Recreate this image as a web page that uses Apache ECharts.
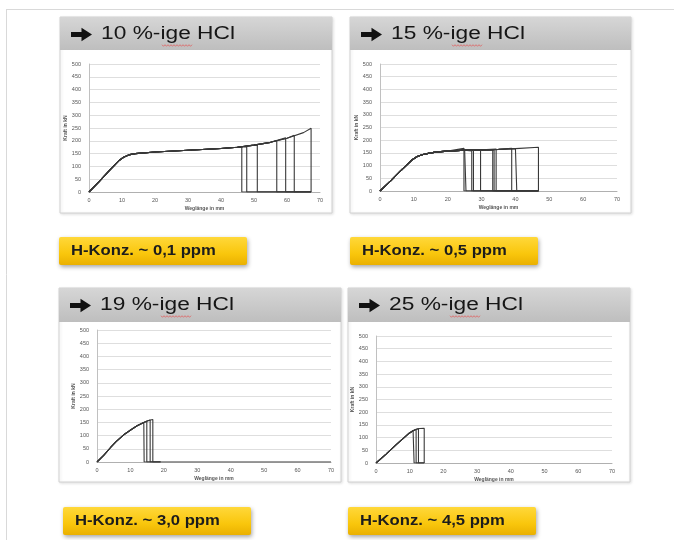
<!DOCTYPE html>
<html>
<head>
<meta charset="utf-8">
<script src="https://cdn.jsdelivr.net/npm/echarts@6/dist/echarts.min.js"></script>
<style>
html, body { margin: 0; padding: 0; background: #fff; }
#chart { width: 674px; height: 540px; }
</style>
</head>
<body>
<div id="chart"></div>
<script>
// Zugversuche je HCl-Konzentration, Kraft in kN ueber Weg in mm
var titles = ['10 %-ige HCl', '15 %-ige HCl', '19 %-ige HCl', '25 %-ige HCl'];
var hKonz = ['H-Konz. ~ 0,1 ppm', 'H-Konz. ~ 0,5 ppm', 'H-Konz. ~ 3,0 ppm', 'H-Konz. ~ 4,5 ppm'];
var xTicks = [0, 10, 20, 30, 40, 50, 60, 70];
var yTicks = [0, 50, 100, 150, 200, 250, 300, 350, 400, 450, 500];

// gemeinsame Kurve bis zum Bruch, dann Bruchstellen (Weg, Kraft) und Ende der Nulllinie
var curve10 = [[0,0],[3,40],[6,82],[9,122],[10.5,136],[12,145],[14,150],[20,156],[30,163],[40,170],[45,175],[50,183],[55,194],[60,210],[65,232],[67.3,249]];
var break10 = [46.3, 47.8, 51.0, 56.9, 59.6, 62.2, 67.3];
var force10 = [174, 177, 184, 201, 212, 222, 249];
var end10 = [67.3, 67.3, 67.3, 67.3, 67.3, 67.3, 67.3];

var curve15 = [[0,0],[3,38],[6,78],[9.4,122],[11,136],[12.7,144],[15,150],[17,154],[20,157],[25,161],[30,162],[35,164],[40,167],[46.8,172]];
var break15 = [24.8, 25.4, 27.1, 27.6, 29.7, 33.3, 33.7, 34.3, 38.9, 40.4, 46.8];
var force15 = [168, 160, 158, 160, 160, 161, 162, 165, 168, 166, 172];
var end15 = [46.8, 46.8, 46.8, 46.8, 46.8, 46.8, 46.8, 46.8, 46.8, 46.8, 46.8];

var curve19 = [[0,0],[2,25],[4,54],[5.7,77],[8,103],[10.4,124],[12,137],[14,150],[15,155],[16,159],[16.7,161]];
var break19 = [14.1, 14.9, 15.9, 16.7];
var force19 = [150, 154, 159, 161];
var end19 = [19, 19, 19, 70];

var curve25 = [[0,0],[3,35],[6,72],[9.6,115],[11,127],[12,133],[13,136],[14.3,137]];
var break25 = [11.3, 11.9, 12.6, 14.3];
var force25 = [129, 133, 136, 137];
var end25 = [14.3, 14.3, 14.3, 14.3];

var curves = [curve10, curve15, curve19, curve25];
var breaks = [break10, break15, break19, break25];
var forces = [force10, force15, force19, force25];
var ends = [end10, end15, end19, end25];

function specimen(curve, bx, bf, ex) {
    var pts = curve.filter(function (p) { return p[0] < bx; });
    pts.push([bx, bf], [bx, 0]);
    if (ex > bx) pts.push([ex, 0]);
    return pts;
}

var panels = [
    {x: 60, y: 17, w: 272, h: 196, hh: 33},
    {x: 350, y: 17, w: 281, h: 196, hh: 33},
    {x: 59, y: 288, w: 282, h: 194, hh: 34},
    {x: 348, y: 288, w: 282, h: 194, hh: 34}
];
var grids = [
    {left: 89, top: 64, width: 231, height: 128},
    {left: 380, top: 64, width: 237, height: 127},
    {left: 97, top: 330, width: 234, height: 132},
    {left: 376, top: 336, width: 236, height: 127}
];
var labels = [{x: 59, y: 237}, {x: 350, y: 237}, {x: 63, y: 507}, {x: 348, y: 507}];

var graphic = [
    {type: 'line', z: -5, shape: {x1: 6, y1: 9.5, x2: 674, y2: 9.5}, style: {stroke: '#d9d9d9', lineWidth: 1}},
    {type: 'line', z: -5, shape: {x1: 6.5, y1: 9, x2: 6.5, y2: 540}, style: {stroke: '#d9d9d9', lineWidth: 1}}
];

panels.forEach(function (p, i) {
    graphic.push({
        type: 'rect', z: -4,
        shape: {x: p.x, y: p.y, width: p.w, height: p.h},
        style: {fill: '#fff', stroke: '#d2d2d2', lineWidth: 1, shadowBlur: 3, shadowColor: 'rgba(0,0,0,0.12)', shadowOffsetX: 1, shadowOffsetY: 1}
    });
    graphic.push({
        type: 'rect', z: -3,
        shape: {x: p.x, y: p.y, width: p.w, height: p.hh},
        style: {fill: new echarts.graphic.LinearGradient(0, 0, 0, 1, [
            {offset: 0, color: '#d6d6d6'}, {offset: 1, color: '#bebebe'}
        ])}
    });
    // Pfeil
    graphic.push({
        type: 'polygon', z: 10, x: p.x + 11, y: p.y + 17.5,
        shape: {points: [[0,-2.4],[10.5,-2.4],[10.5,-6.8],[21,0],[10.5,6.8],[10.5,2.4],[0,2.4]]},
        style: {fill: '#111'}
    });
    graphic.push({
        type: 'text', z: 10, x: p.x + 41, y: p.y + 17.5, scaleX: 1.3,
        style: {text: titles[i], fontFamily: 'Liberation Sans', fontSize: 17.5, fill: '#161616', align: 'left', verticalAlign: 'middle'}
    });
    // rote Rechtschreib-Wellenlinie unter "ige"
    var pts = [];
    for (var k = 0; k <= 20; k++) pts.push([p.x + 102 + k * 1.5, p.y + 28.5 + (k % 2 ? 0.8 : -0.8)]);
    graphic.push({type: 'polyline', z: 10, shape: {points: pts}, style: {stroke: '#e06060', lineWidth: 0.8, fill: null}});

    var l = labels[i];
    graphic.push({
        type: 'rect', z: 5,
        shape: {x: l.x, y: l.y, width: 188, height: 28, r: 2},
        style: {
            fill: new echarts.graphic.LinearGradient(0, 0, 0, 1, [
                {offset: 0, color: '#ffd83a'}, {offset: 0.6, color: '#f9c60c'}, {offset: 1, color: '#eab000'}
            ]),
            shadowBlur: 4, shadowColor: 'rgba(0,0,0,0.35)', shadowOffsetX: 1, shadowOffsetY: 2
        }
    });
    graphic.push({
        type: 'text', z: 10, x: l.x + 12, y: l.y + 14, scaleX: 1.19,
        style: {text: hKonz[i], fontFamily: 'Liberation Sans', fontWeight: 'bold', fontSize: 14, fill: '#1c1c1c', align: 'left', verticalAlign: 'middle'}
    });
});

var xAxis = [], yAxis = [], series = [];
grids.forEach(function (g, i) {
    xAxis.push({
        type: 'value', gridIndex: i, min: xTicks[0], max: xTicks[xTicks.length - 1], interval: xTicks[1] - xTicks[0],
        name: 'Weglänge in mm', nameLocation: 'middle', nameGap: 14,
        nameTextStyle: {fontSize: 5, fontWeight: 'bold', color: '#555'},
        axisLine: {lineStyle: {color: '#b0b0b0', width: 1}},
        axisTick: {show: false},
        axisLabel: {fontSize: 5.5, color: '#555', margin: 5},
        splitLine: {show: false}
    });
    yAxis.push({
        type: 'value', gridIndex: i, min: yTicks[0], max: yTicks[yTicks.length - 1], interval: yTicks[1] - yTicks[0],
        name: 'Kraft in kN', nameLocation: 'middle', nameGap: 21,
        nameTextStyle: {fontSize: 5, fontWeight: 'bold', color: '#555'},
        axisLine: {show: true, lineStyle: {color: '#c0c0c0', width: 1}},
        axisTick: {show: false},
        axisLabel: {fontSize: 5.5, color: '#555', margin: 8},
        splitLine: {lineStyle: {color: '#dedede', width: 1}}
    });
    breaks[i].forEach(function (bx, j) {
        series.push({
            type: 'line', xAxisIndex: i, yAxisIndex: i, silent: true,
            symbol: 'none', animation: false,
            lineStyle: {color: '#383838', width: 1.1},
            data: specimen(curves[i], bx, forces[i][j], ends[i][j])
        });
    });
});

var myChart = echarts.init(document.getElementById('chart'));
myChart.setOption({
    animation: false,
    grid: grids,
    xAxis: xAxis,
    yAxis: yAxis,
    graphic: graphic,
    series: series
});
</script>
</body>
</html>
